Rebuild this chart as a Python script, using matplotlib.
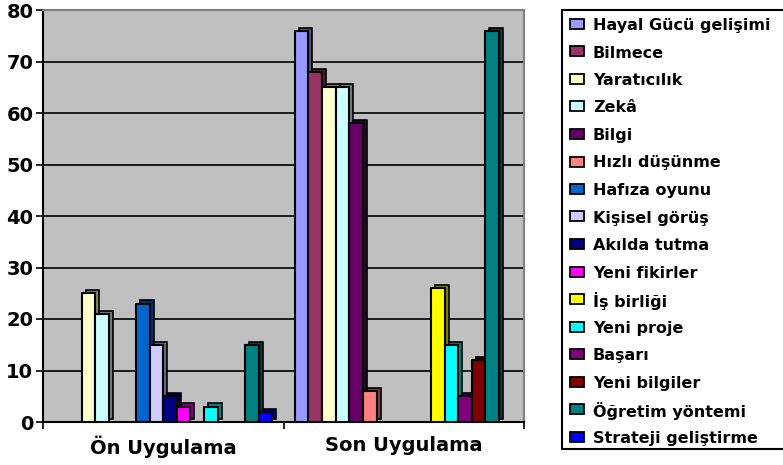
import matplotlib
matplotlib.use("Agg")
import matplotlib.pyplot as plt
from matplotlib.patches import Rectangle
import matplotlib.colors as mcolors
import numpy as np

# Veriler
gruplar = ["Ön Uygulama", "Son Uygulama"]
seriler = ["Hayal Gücü gelişimi", "Bilmece", "Yaratıcılık", "Zekâ", "Bilgi",
           "Hızlı düşünme", "Hafıza oyunu", "Kişisel görüş", "Akılda tutma",
           "Yeni fikirler", "İş birliği", "Yeni proje", "Başarı",
           "Yeni bilgiler", "Öğretim yöntemi", "Strateji geliştirme"]
on_uygulama = [0, 0, 25, 21, 0, 0, 23, 15, 5, 3, 0, 3, 0, 0, 15, 2]
son_uygulama = [76, 68, 65, 65, 58, 6, 0, 0, 0, 0, 26, 15, 5, 12, 76, 0]
renkler = ["#9999FF", "#993366", "#FFFFCC", "#CCFFFF", "#660066", "#FF8080",
           "#0066CC", "#CCCCFF", "#000080", "#FF00FF", "#FFFF00", "#00FFFF",
           "#800080", "#800000", "#008080", "#0000FF"]
y_ticks = [0, 10, 20, 30, 40, 50, 60, 70, 80]

W, H = 783, 465
fig = plt.figure(figsize=(W / 100, H / 100), dpi=100)
ax = fig.add_axes([43 / W, 1 - 422 / H, 481 / W, 412 / H])
ax.set_facecolor("#C0C0C0")

n = len(seriler)
slot = 0.0566
dx = 0.0166   # 3B derinlik
dy = 0.6
x = np.arange(len(gruplar))
for i, (ad, renk) in enumerate(zip(seriler, renkler)):
    degerler = [on_uygulama[i], son_uygulama[i]]
    pos = x + (i - (n - 1) / 2) * slot
    koyu = np.array(mcolors.to_rgb(renk)) * 0.5
    for p, v in zip(pos, degerler):
        if v == 0:
            continue
        ax.bar(p + dx, v, width=slot, bottom=dy, color=koyu,
               edgecolor="black", linewidth=1.2, zorder=3)
        ax.bar(p, v, width=slot, color=renk, edgecolor="black",
               linewidth=1.5, zorder=4)

ax.set_xlim(-0.5, 1.5)
ax.set_ylim(0, 80)
ax.set_yticks(y_ticks)
ax.yaxis.grid(True, color="black", linewidth=1.2)
ax.set_axisbelow(True)
ax.set_xticks(x)
ax.set_xticklabels(gruplar, fontsize=14, fontweight="bold")
ax.set_xticks([-0.5, 0.5, 1.5], minor=True)
ax.tick_params(axis="x", which="major", length=0, pad=10)
ax.tick_params(axis="x", which="minor", length=5, width=1.2)
ax.tick_params(axis="y", length=5, width=1.2, labelsize=14, pad=2)
for lbl in ax.get_yticklabels():
    lbl.set_fontweight("bold")
for s in ["top", "right"]:
    ax.spines[s].set_color("#808080")
    ax.spines[s].set_linewidth(1.5)
ax.spines["left"].set_linewidth(1.5)
ax.spines["bottom"].set_linewidth(1.5)

# Lejant (elle çizilmiş)
fig.patches.append(Rectangle((562 / W, 1 - 449 / H), 240 / W, 439 / H,
                             transform=fig.transFigure, facecolor="white",
                             edgecolor="black", linewidth=1.5))
for i, (ad, renk) in enumerate(zip(seriler, renkler)):
    yc = 24 + i * 27.5
    fig.patches.append(Rectangle((570 / W, 1 - (yc + 5) / H), 14 / W, 10 / H,
                                 transform=fig.transFigure, facecolor=renk,
                                 edgecolor="black", linewidth=1.3))
    fig.text(593 / W, 1 - yc / H, ad, fontsize=11.5, fontweight="bold",
             va="center_baseline", ha="left")

fig.savefig("out.png", dpi=100)
